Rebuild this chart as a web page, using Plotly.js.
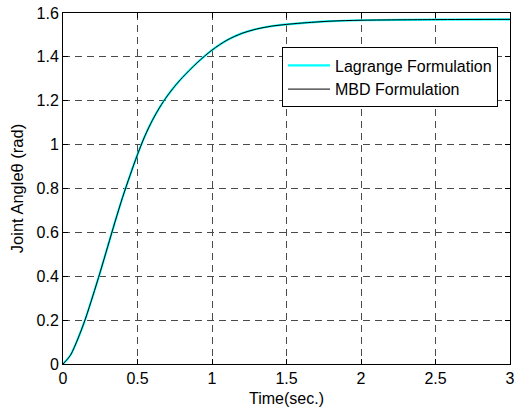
<!DOCTYPE html>
<html>
<head>
<meta charset="utf-8">
<script src="https://cdn.plot.ly/plotly-3.0.1.min.js"></script>
<style>
  html, body { margin: 0; padding: 0; background: #fff; }
  #plot { width: 516px; height: 411px; }
</style>
</head>
<body>
<div id="plot"></div>
<script>
// Joint angle response over time (rad)
const timeSec = [0, 0.05, 0.1, 0.15, 0.2, 0.25, 0.3, 0.35, 0.4, 0.45, 0.5, 0.55, 0.6, 0.65,
                 0.7, 0.75, 0.8, 0.9, 1.0, 1.1, 1.2, 1.3, 1.4, 1.5, 1.6, 1.8, 2.0, 2.5, 3.0];
const lagrangeAngle = [0, 0.04, 0.115, 0.205, 0.31, 0.42, 0.535, 0.65, 0.76, 0.86, 0.955, 1.04, 1.111, 1.171,
                       1.222, 1.266, 1.305, 1.373, 1.431, 1.476, 1.507, 1.527, 1.540, 1.548, 1.554, 1.563, 1.567, 1.570, 1.571];
const mbdAngle = [0, 0.04, 0.115, 0.205, 0.31, 0.42, 0.535, 0.65, 0.76, 0.86, 0.955, 1.04, 1.111, 1.171,
                  1.222, 1.266, 1.305, 1.373, 1.431, 1.476, 1.507, 1.527, 1.540, 1.548, 1.554, 1.563, 1.567, 1.570, 1.571];
const xTicks = [0, 0.5, 1, 1.5, 2, 2.5, 3];
const xTickText = ['0', '0.5', '1', '1.5', '2', '2.5', '3'];
const yTicks = [0, 0.2, 0.4, 0.6, 0.8, 1, 1.2, 1.4, 1.6];
const yTickText = ['0', '0.2', '0.4', '0.6', '0.8', '1', '1.2', '1.4', '1.6'];

const font = { family: 'Liberation Sans, Arial, sans-serif', size: 16, color: '#000' };

const traces = [
  {
    x: timeSec, y: lagrangeAngle, type: 'scatter', mode: 'lines',
    name: 'Lagrange Formulation',
    line: { color: '#00ffff', width: 2.2, shape: 'spline', smoothing: 0.8 }
  },
  {
    x: timeSec, y: mbdAngle, type: 'scatter', mode: 'lines',
    name: 'MBD Formulation',
    line: { color: '#000000', width: 1, shape: 'spline', smoothing: 0.8 }
  }
];

const axisCommon = {
  showline: true, linecolor: '#000', linewidth: 1, mirror: 'ticks',
  ticks: 'inside', ticklen: 5, tickcolor: '#000', tickwidth: 1,
  showgrid: true, gridcolor: '#4a4a4a', gridwidth: 1, griddash: '7px,5px',
  zeroline: false, tickfont: font, fixedrange: true
};

const layout = {
  width: 516, height: 411,
  margin: { l: 63, r: 6, t: 12.5, b: 47 },
  paper_bgcolor: '#fff', plot_bgcolor: '#fff',
  font: font,
  showlegend: true,
  legend: {
    x: 0.49, y: 0.902, xanchor: 'left', yanchor: 'top',
    bgcolor: '#fff', bordercolor: '#000', borderwidth: 1,
    font: font, itemwidth: 42, tracegroupgap: 0
  },
  xaxis: Object.assign({}, axisCommon, {
    range: [0, 3], tickmode: 'array', tickvals: xTicks, ticktext: xTickText,
    title: { text: 'Time(sec.)', font: font, standoff: 6 }
  }),
  yaxis: Object.assign({}, axisCommon, {
    range: [0, 1.6], tickmode: 'array', tickvals: yTicks, ticktext: yTickText,
    title: { text: 'Joint Angleθ (rad)', font: Object.assign({}, font, { size: 16.5 }), standoff: 8 }
  })
};

Plotly.newPlot('plot', traces, layout, { staticPlot: true, displayModeBar: false });
</script>
</body>
</html>
